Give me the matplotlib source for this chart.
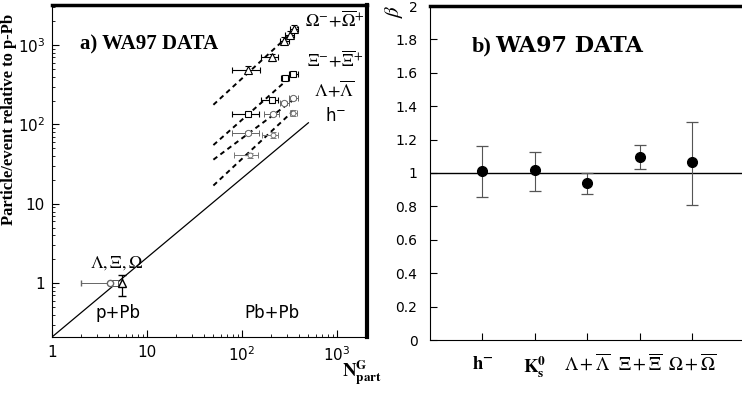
import matplotlib
matplotlib.use("Agg")
import matplotlib.pyplot as plt
from matplotlib.ticker import FixedLocator, FuncFormatter

# --- panel a: yields relative to p-Pb vs N_part ---
# Pb+Pb points (x, y, x-range low/high)
om_x = [116, 205, 279, 320, 355]
om_y = [489, 698, 1135, 1350, 1606]
om_xlo = [79, 160, 250, 287, 318]
om_xhi = [155, 239, 310, 355, 392]

xi_x = [116, 205, 284, 347]
xi_y = [136, 205, 384, 431]
xi_xlo = [79, 160, 255, 312]
xi_xhi = [150, 239, 315, 385]

la_x = [116, 213, 279, 347]
la_y = [78, 136, 186, 215]
la_xlo = [79, 172, 250, 312]
la_xhi = [150, 245, 310, 385]

hm_x = [121, 213, 347]
hm_y = [41, 74, 139]
hm_xlo = [82, 162, 320]
hm_xhi = [147, 240, 375]

# dashed Pb+Pb fits (end points)
fit_om_x = [50, 390]
fit_om_y = [177, 1700]
fit_x = [50, 350]
fit_xi_y = [55, 431]
fit_la_y = [36, 205]
fit_hm_y = [17, 150]

# solid reference line (wounded nucleon scaling)
ref_x = [1, 500]
ref_y = [0.21, 105]

# p+Pb points
ppb_x = [4.1, 4.6, 5.5]
ppb_y = [1.0, 1.0, 1.0]
ppb_circle_xlo = 2.0
ppb_tri_ylo = 0.69
ppb_tri_yhi = 1.27

# --- panel b: beta exponents ---
species = [r'$\mathbf{h^{-}}$', r'$\mathbf{K^{0}_{s}}$', r'$\Lambda+\overline{\Lambda}$',
           r'$\Xi+\overline{\Xi}$', r'$\Omega+\overline{\Omega}$']
beta = [1.012, 1.018, 0.94, 1.096, 1.066]
beta_hi = [1.16, 1.126, 1.0, 1.168, 1.305]
beta_lo = [0.856, 0.89, 0.874, 1.024, 0.81]

fig = plt.figure(figsize=(7.42, 3.98), dpi=100)
ax1 = fig.add_axes([52 / 742, 61 / 398, 315 / 742, 332 / 398])
ax2 = fig.add_axes([430 / 742, 58 / 398, 312 / 742, 334 / 398])

serif = 'Liberation Serif'


def xerr(x, lo, hi):
    return [[a - b for a, b in zip(x, lo)], [b - a for a, b in zip(x, hi)]]


ax1.set_xscale('log')
ax1.set_yscale('log')
ax1.set_xlim(1, 2070)
ax1.set_ylim(0.21, 3200)

ax1.plot(ref_x, ref_y, color='k', lw=0.9)
for fy, fx in [(fit_om_y, fit_om_x), (fit_xi_y, fit_x), (fit_la_y, fit_x), (fit_hm_y, fit_x)]:
    ax1.plot(fx, fy, color='k', lw=1.4, ls=(0, (2.5, 2)))

ax1.errorbar(om_x, om_y, xerr=xerr(om_x, om_xlo, om_xhi), yerr=[[v * 0.1 for v in om_y], [v * 0.11 for v in om_y]],
             fmt='^', mfc='white', mec='k', color='k', ms=6, lw=0.8, capsize=2.5, mew=0.8)
ax1.errorbar(xi_x, xi_y, xerr=xerr(xi_x, xi_xlo, xi_xhi), yerr=[[v * 0.06 for v in xi_y], [v * 0.06 for v in xi_y]],
             fmt='s', mfc='white', mec='k', color='k', ms=5, lw=0.8, capsize=2.5, mew=0.8)
ax1.errorbar(la_x, la_y, xerr=xerr(la_x, la_xlo, la_xhi), yerr=[[v * 0.05 for v in la_y], [v * 0.05 for v in la_y]],
             fmt='o', mfc='white', mec='#666', color='#666', ms=4.5, lw=0.7, capsize=2.5, mew=0.7)
ax1.errorbar(hm_x, hm_y, xerr=xerr(hm_x, hm_xlo, hm_xhi), yerr=[[v * 0.08 for v in hm_y], [v * 0.08 for v in hm_y]],
             fmt='o', mfc='white', mec='#777', color='#777', ms=3.5, lw=0.7, capsize=2.5, mew=0.7)

# p+Pb
ax1.errorbar([ppb_x[0]], [ppb_y[0]], xerr=[[ppb_x[0] - ppb_circle_xlo], [0]], fmt='o', mfc='white',
             mec='#666', color='#666', ms=4.5, lw=0.7, capsize=2.5)
ax1.plot([ppb_x[1]], [ppb_y[1]], 's', mfc='white', mec='#555', ms=4.5, mew=0.7)
ax1.errorbar([ppb_x[2]], [ppb_y[2]], yerr=[[ppb_y[2] - ppb_tri_ylo], [ppb_tri_yhi - ppb_y[2]]], fmt='^',
             mfc='white', mec='k', color='k', ms=6, lw=0.9, capsize=3)

ax1.xaxis.set_major_locator(FixedLocator([1, 10, 100, 1000]))
ax1.set_xticklabels(['1', '10', '$10^{2}$', '$10^{3}$'])
ax1.yaxis.set_major_locator(FixedLocator([1, 10, 100, 1000]))
ax1.set_yticklabels(['1', '10', '$10^{2}$', '$10^{3}$'])
ax1.tick_params(which='both', direction='in', top=False, right=False, labelsize=11)
ax1.tick_params(which='major', length=5, width=0.8)
ax1.tick_params(which='minor', length=2.5, width=0.6)
ax1.tick_params(axis='x', pad=6)
ax1.tick_params(axis='y', pad=5)
for s in ['left', 'bottom']:
    ax1.spines[s].set_linewidth(0.8)
ax1.spines['top'].set_linewidth(2.5)
ax1.spines['right'].set_linewidth(3)

ax1.set_ylabel('Particle/event relative to p-Pb', family=serif, weight='bold', fontsize=12)
ax1.yaxis.set_label_coords(-0.112, 0.655)

tr = ax1.transAxes
ax1.text(0.089, 0.88, 'a) WA97 DATA', transform=tr, family=serif, weight='bold', fontsize=15, va='center')
ax1.text(0.90, 0.955, r'$\Omega^{-}\!+\!\overline{\Omega}^{+}$', transform=tr, fontsize=13, ha='center',
         va='center', math_fontfamily='stix')
ax1.text(0.90, 0.834, r'$\Xi^{-}\!+\!\overline{\Xi}^{+}$', transform=tr, fontsize=13, ha='center',
         va='center', math_fontfamily='stix')
ax1.text(0.897, 0.744, r'$\Lambda\!+\!\overline{\Lambda}$', transform=tr, fontsize=13, ha='center',
         va='center', math_fontfamily='stix')
ax1.text(0.90, 0.666, r'h$^{-}$', transform=tr, fontsize=12, ha='center', va='center')
ax1.text(0.206, 0.223, r'$\Lambda,\Xi,\Omega$', transform=tr, fontsize=13, ha='center', va='center',
         math_fontfamily='stix')
ax1.text(0.21, 0.072, 'p+Pb', transform=tr, fontsize=12, ha='center', va='center')
ax1.text(0.698, 0.072, 'Pb+Pb', transform=tr, fontsize=12, ha='center', va='center')
fig.text(382 / 742, 1 - 373 / 398, r'$\mathbf{N^{G}_{part}}$', fontsize=13.5, ha='right', va='center',
         math_fontfamily='stix')

# panel b
pos = [1, 2, 3, 4, 5]
ax2.set_xlim(0, 5.95)
ax2.set_ylim(0, 2)
ax2.axhline(1, color='k', lw=1)
ax2.errorbar(pos, beta, yerr=[[b - l for b, l in zip(beta, beta_lo)], [h - b for b, h in zip(beta, beta_hi)]],
             fmt='o', color='k', ecolor='#555', ms=7, lw=0.8, capsize=4, capthick=0.9)
ax2.set_xticks(pos)
ax2.set_xticklabels(species, fontsize=13.5, math_fontfamily='stix')
ax2.set_yticks([0, 0.2, 0.4, 0.6, 0.8, 1, 1.2, 1.4, 1.6, 1.8, 2])
ax2.yaxis.set_major_formatter(FuncFormatter(lambda v, p: f'{v:g}'))
ax2.tick_params(direction='in', top=False, right=False, length=5, width=0.8)
ax2.tick_params(axis='y', labelsize=10, pad=9)
ax2.tick_params(axis='x', pad=10)
ax2.spines['right'].set_visible(False)
ax2.spines['top'].set_linewidth(2.5)
ax2.spines['left'].set_linewidth(0.8)
ax2.spines['bottom'].set_linewidth(0.8)

ax2.text(-0.115, 0.985, r'$\beta$', transform=ax2.transAxes, rotation=90, fontsize=15, ha='center',
         va='center', math_fontfamily='stix')
ax2.text(0.135, 0.88, 'b)', transform=ax2.transAxes, family=serif, weight='bold', fontsize=16,
         va='center')
ax2.text(0.21, 0.88, 'WA97 DATA', transform=ax2.transAxes, family='DejaVu Serif', weight='bold', fontsize=16,
         va='center')

fig.savefig('out.png', dpi=100)
